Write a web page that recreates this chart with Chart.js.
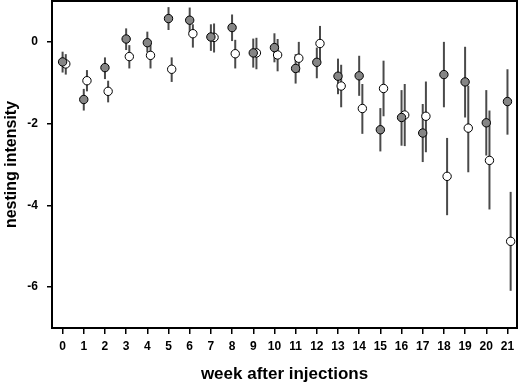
<!DOCTYPE html>
<html><head><meta charset="utf-8">
<script src="https://cdn.jsdelivr.net/npm/chart.js@4"></script>
<style>html,body{margin:0;padding:0;background:#fff}#wrap{width:519px;height:385px}</style>
</head><body><div id="wrap"><canvas id="c" width="519" height="385"></canvas></div>
<script>
const weeks = [0,1,2,3,4,5,6,7,8,9,10,11,12,13,14,15,16,17,18,19,20,21];
const yTicks = [-6,-4,-2,0];
// grey (filled) group
const greyMean  = [-0.49,-1.41,-0.63,0.07,-0.02,0.57,0.53,0.12,0.35,-0.27,-0.14,-0.65,-0.50,-0.84,-0.83,-2.15,-1.85,-2.23,-0.80,-0.98,-1.98,-1.46];
const greyLow   = [-0.75,-1.68,-0.91,-0.20,-0.26,0.29,0.23,-0.22,0.02,-0.63,-0.50,-1.02,-0.89,-1.28,-1.32,-2.68,-2.54,-2.94,-1.60,-1.85,-2.78,-2.27];
const greyHigh  = [-0.24,-1.15,-0.38,0.33,0.25,0.85,0.84,0.43,0.67,0.08,0.21,-0.30,-0.14,-0.41,-0.34,-1.62,-1.18,-1.52,0.00,-0.12,-1.18,-0.67];
// white (open) group
const whiteMean = [-0.54,-0.95,-1.21,-0.36,-0.33,-0.67,0.20,0.11,-0.29,-0.27,-0.32,-0.40,-0.04,-1.08,-1.63,-1.14,-1.79,-1.82,-3.29,-2.11,-2.90,-4.88];
const whiteLow  = [-0.80,-1.21,-1.48,-0.65,-0.65,-0.98,-0.14,-0.26,-0.65,-0.67,-0.72,-0.75,-0.46,-1.60,-2.25,-1.82,-2.55,-2.70,-4.24,-3.19,-4.10,-6.09];
const whiteHigh = [-0.30,-0.69,-0.95,-0.08,-0.06,-0.38,0.43,0.45,0.05,0.10,0.07,0.00,0.39,-0.56,-1.03,-0.46,-1.03,-0.97,-2.35,-1.07,-1.68,-3.67];
const whiteShift = 0.15;

const FONT = "'Liberation Sans', Arial, Helvetica, sans-serif";

const greyData = weeks.map((w,i)=>({x:w, y:greyMean[i], lo:greyLow[i], hi:greyHigh[i]}));
const whiteData = weeks.map((w,i)=>({x:w+whiteShift, y:whiteMean[i], lo:whiteLow[i], hi:whiteHigh[i]}));

const errorBars = {
  id:'errorBars',
  beforeDatasetsDraw(chart){
    const {ctx, scales:{x,y}} = chart;
    ctx.save();
    ctx.strokeStyle = '#4a4a4a';
    ctx.lineWidth = 2;
    chart.data.datasets.forEach(ds=>{
      ds.data.forEach(p=>{
        const px = x.getPixelForValue(p.x);
        ctx.beginPath();
        ctx.moveTo(px, y.getPixelForValue(p.lo));
        ctx.lineTo(px, y.getPixelForValue(p.hi));
        ctx.stroke();
      });
    });
    ctx.restore();
  },
  afterDraw(chart){
    const {ctx, chartArea:a} = chart;
    ctx.save();
    ctx.strokeStyle = '#000';
    ctx.lineWidth = 2;
    ctx.strokeRect(a.left, a.top, a.right-a.left, a.bottom-a.top);
    ctx.restore();
  }
};

new Chart(document.getElementById('c'), {
  type:'scatter',
  data:{datasets:[
    {data:greyData, backgroundColor:'#858585', borderColor:'#000', borderWidth:1, pointRadius:4.2, pointHoverRadius:4.2, clip:false},
    {data:whiteData, backgroundColor:'#fff', borderColor:'#000', borderWidth:1, pointRadius:4.2, pointHoverRadius:4.2, clip:false}
  ]},
  options:{
    responsive:false, animation:false,
    layout:{autoPadding:false, padding:{top:1,right:2,left:0,bottom:0}},
    plugins:{legend:{display:false}, tooltip:{enabled:false}},
    scales:{
      x:{
        type:'linear', min:-0.5, max:21.45,
        afterBuildTicks(s){ s.ticks = weeks.map(v=>({value:v})); },
        afterFit(s){ s.height = 57; s.paddingLeft = 0; s.paddingRight = 0; },
        ticks:{color:'#000', font:{family:FONT, size:12, weight:'bold'}, padding:5, maxRotation:0, autoSkip:false},
        grid:{display:true, drawOnChartArea:false, drawTicks:true, tickLength:6, color:'#000', lineWidth:1.5},
        border:{display:true, color:'#000', width:2},
        title:{display:true, text:'week after injections', color:'#000', font:{family:FONT, size:17, weight:'bold'}, padding:{top:7,bottom:0}}
      },
      y:{
        min:-7, max:1,
        afterBuildTicks(s){ s.ticks = yTicks.map(v=>({value:v})); },
        afterFit(s){ s.width = 52; s.paddingTop = 0; s.paddingBottom = 0; },
        ticks:{color:'#000', font:{family:FONT, size:12, weight:'bold'}, padding:9},
        grid:{display:true, drawOnChartArea:false, drawTicks:true, tickLength:5, color:'#000', lineWidth:1.5},
        border:{display:true, color:'#000', width:2},
        title:{display:true, text:'nesting intensity', color:'#000', font:{family:FONT, size:16, weight:'bold'}, padding:{top:2,bottom:0}}
      }
    }
  },
  plugins:[errorBars]
});
</script></body></html>
